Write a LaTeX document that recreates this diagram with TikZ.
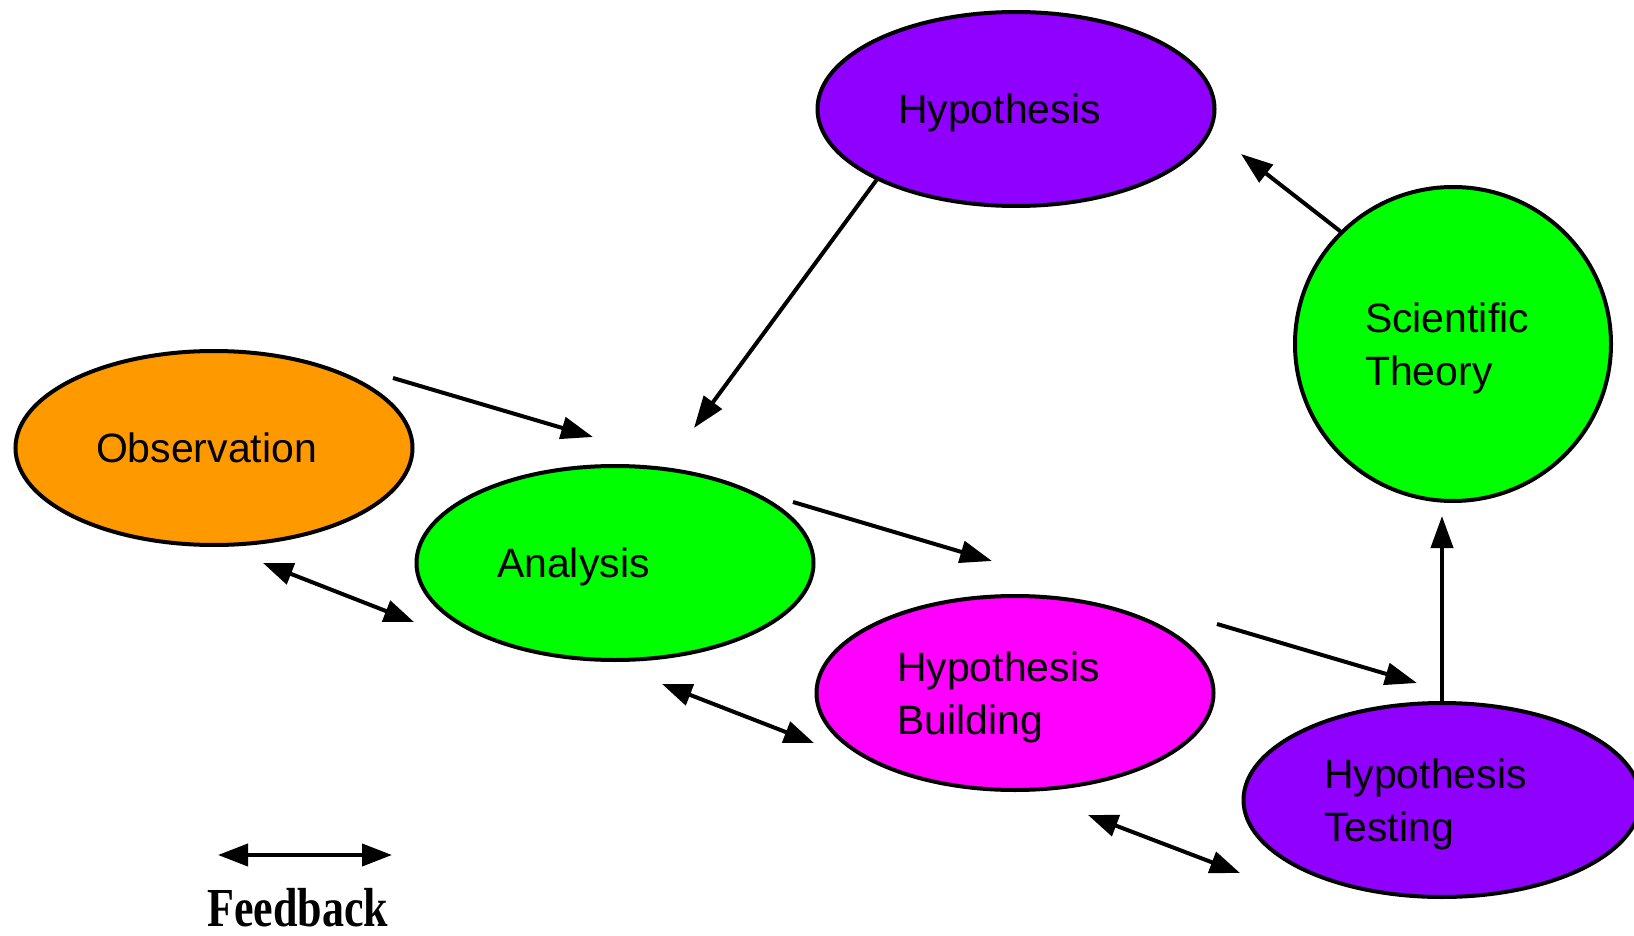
\documentclass[tikz,border=0pt]{standalone}
\usepackage{fontspec}
\setmainfont{Liberation Sans}
\newfontfamily\feedbackfont{Liberation Serif}
\usetikzlibrary{arrows.meta,shapes.geometric}
\definecolor{hypviolet}{RGB}{143,0,255}
\definecolor{obsorange}{RGB}{255,153,0}
\definecolor{stepgreen}{RGB}{0,255,0}
\definecolor{hypmagenta}{RGB}{255,0,255}
\begin{document}
\begin{tikzpicture}[x=1pt,y=-1pt,
    bubble/.style={ellipse,draw,line width=4pt,inner sep=0pt,minimum width=397pt,minimum height=194pt,text width=236pt,align=left,font=\fontsize{41}{53}\selectfont},
    oneline/.style={text depth=0pt},
    twolines/.style={text depth=52pt},
    link/.style={line width=4pt,-{Triangle[length=32pt,width=22pt]}},
    feedback/.style={line width=4pt,{Triangle[length=30pt,width=22pt]}-{Triangle[length=30pt,width=22pt]}}]
    \useasboundingbox (0,0) rectangle (1634,936);
    \node[bubble,oneline,fill=hypviolet] (hyp) at (1016,109) {Hypothesis};
    \node[bubble,oneline,fill=obsorange] (obs) at (214,448) {Observation};
    \node[bubble,oneline,fill=stepgreen] (ana) at (615,563) {Analysis};
    \node[bubble,twolines,fill=hypmagenta] (build) at (1015,693) {Hypothesis\\Building};
    \node[bubble,twolines,fill=hypviolet] (test) at (1442,800) {Hypothesis\\Testing};
    \node[bubble,twolines,fill=stepgreen,minimum width=316pt,minimum height=314pt,text width=176pt] (theory) at (1453,344) {Scientific\\Theory};
    \coordinate (hypTip) at (694,428);
    \coordinate (obsTail) at (393,378);
    \coordinate (obsTip) at (593,437);
    \coordinate (anaTail) at (793,502);
    \coordinate (anaTip) at (992,561);
    \coordinate (buildTail) at (1217,624);
    \coordinate (buildTip) at (1417,683);
    \coordinate (testTip) at (1442,516);
    \coordinate (theoryTip) at (1241,154);
    \coordinate (fbObs) at (263,563);
    \coordinate (fbAnaL) at (414,622);
    \coordinate (fbAnaR) at (662,684);
    \coordinate (fbBuildL) at (814,743);
    \coordinate (fbBuildR) at (1088,815);
    \coordinate (fbTest) at (1240,873);
    \coordinate (legL) at (218,855);
    \coordinate (legR) at (392,855);
    \path[link](hyp.207) edge (hypTip)
    (obsTail) edge (obsTip)
    (anaTail) edge (anaTip)
    (buildTail) edge (buildTip)
    (test.north) edge (testTip)
    (theory.135) edge (theoryTip);
    \path[feedback](fbObs) edge (fbAnaL)
    (fbAnaR) edge (fbBuildL)
    (fbBuildR) edge (fbTest);
    \draw[feedback] (legL) -- (legR);
    \node[anchor=base,inner sep=0pt,font=\feedbackfont\bfseries\fontsize{44}{50}\selectfont] (fb) at (298,926) {\scalebox{1}[1.25]{Feedback}};
  \end{tikzpicture}
\end{document}
